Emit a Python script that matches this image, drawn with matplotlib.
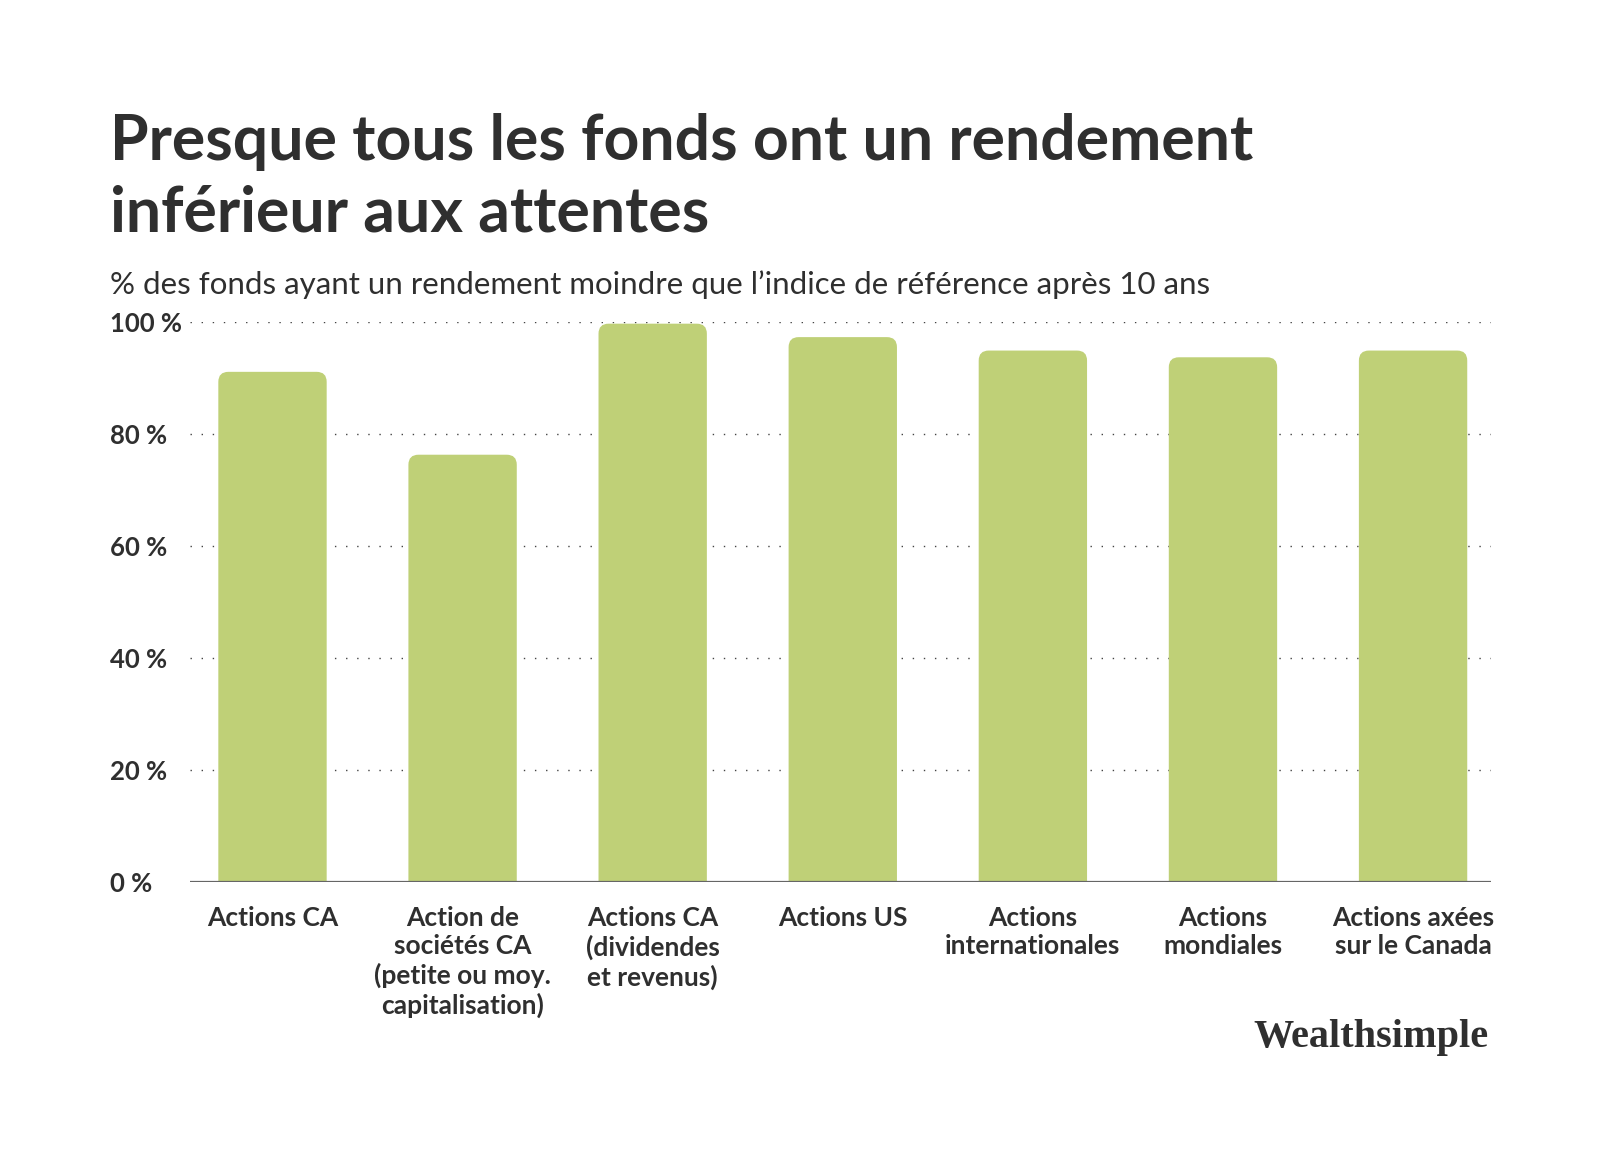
import matplotlib
matplotlib.use("Agg")
import matplotlib.pyplot as plt
from matplotlib.patches import FancyBboxPatch

# data
categories = [
    "Actions CA",
    "Action de\nsociétés CA\n(petite ou moy.\ncapitalisation)",
    "Actions CA\n(dividendes\net revenus)",
    "Actions US",
    "Actions\ninternationales",
    "Actions\nmondiales",
    "Actions axées\nsur le Canada",
]
pct_underperform = [91.1, 76.3, 99.7, 97.3, 94.9, 93.7, 94.9]
y_ticks = [0, 20, 40, 60, 80, 100]
y_tick_labels = ["0 %", "20 %", "40 %", "60 %", "80 %", "100 %"]

title_lines = ["Presque tous les fonds ont un rendement", "inférieur aux attentes"]
subtitle = "% des fonds ayant un rendement moindre que l\u2019indice de référence après 10 ans"

BAR = "#bfd077"
TXT = "#2f2f2f"
FONT = "Lato"

W, H = 1600, 1154
fig = plt.figure(figsize=(16, 11.54), dpi=100)
fig.patch.set_facecolor("white")

x0, x1 = -0.434, 6.41
ax = fig.add_axes([190 / W, 1 - 882 / H, (1491 - 190) / W, (882 - 322) / H])
ax.set_xlim(x0, x1)
ax.set_ylim(0, 100)

# dotted grid behind the bars
for t in y_ticks[1:]:
    ax.axhline(t, color="#444444", lw=1.0, dashes=(1, 7), zorder=0)

# bars with rounded top corners
bar_w = 0.57
px_x = (1491 - 190) / (x1 - x0)   # px per x unit
px_y = (882 - 322) / 100.0        # px per y unit
r = 10 / px_x
for i, v in enumerate(pct_underperform):
    p = FancyBboxPatch((i - bar_w / 2, -5), bar_w, v + 5,
                       boxstyle=f"round,pad=0,rounding_size={r}",
                       mutation_aspect=px_x / px_y,
                       fc=BAR, ec="none", zorder=2)
    ax.add_patch(p)

ax.axhline(0, color="#666666", lw=1.6, zorder=3)

for s in ax.spines.values():
    s.set_visible(False)

ax.set_yticks(y_ticks)
ax.set_yticklabels(y_tick_labels)
ax.tick_params(axis="y", length=0, pad=57.6, labelsize=18.5, labelcolor=TXT)
for lab in ax.get_yticklabels():
    lab.set_ha("left")
    lab.set_fontfamily(FONT)
    lab.set_fontweight("bold")

ax.set_xticks(range(len(categories)))
ax.set_xticklabels(categories)
ax.tick_params(axis="x", length=0, pad=17, labelsize=19, labelcolor=TXT)
for lab in ax.get_xticklabels():
    lab.set_fontfamily(FONT)
    lab.set_fontweight("bold")
    lab.set_linespacing(1.22)

fig.text(110 / W, 1 - 160 / H, title_lines[0], fontsize=45, fontweight="bold",
         family=FONT, color=TXT, va="baseline", ha="left")
fig.text(110 / W, 1 - 231 / H, title_lines[1], fontsize=45, fontweight="bold",
         family=FONT, color=TXT, va="baseline", ha="left")
fig.text(110 / W, 1 - 294 / H, subtitle, fontsize=22.5, fontweight="normal",
         family=FONT, color=TXT, va="baseline", ha="left")

fig.text(1488 / W, 1 - 1047 / H, "Wealthsimple", fontsize=29, fontweight="bold",
         family="Liberation Serif", color=TXT, va="baseline", ha="right")

fig.savefig("out.png", dpi=100, facecolor="white")
